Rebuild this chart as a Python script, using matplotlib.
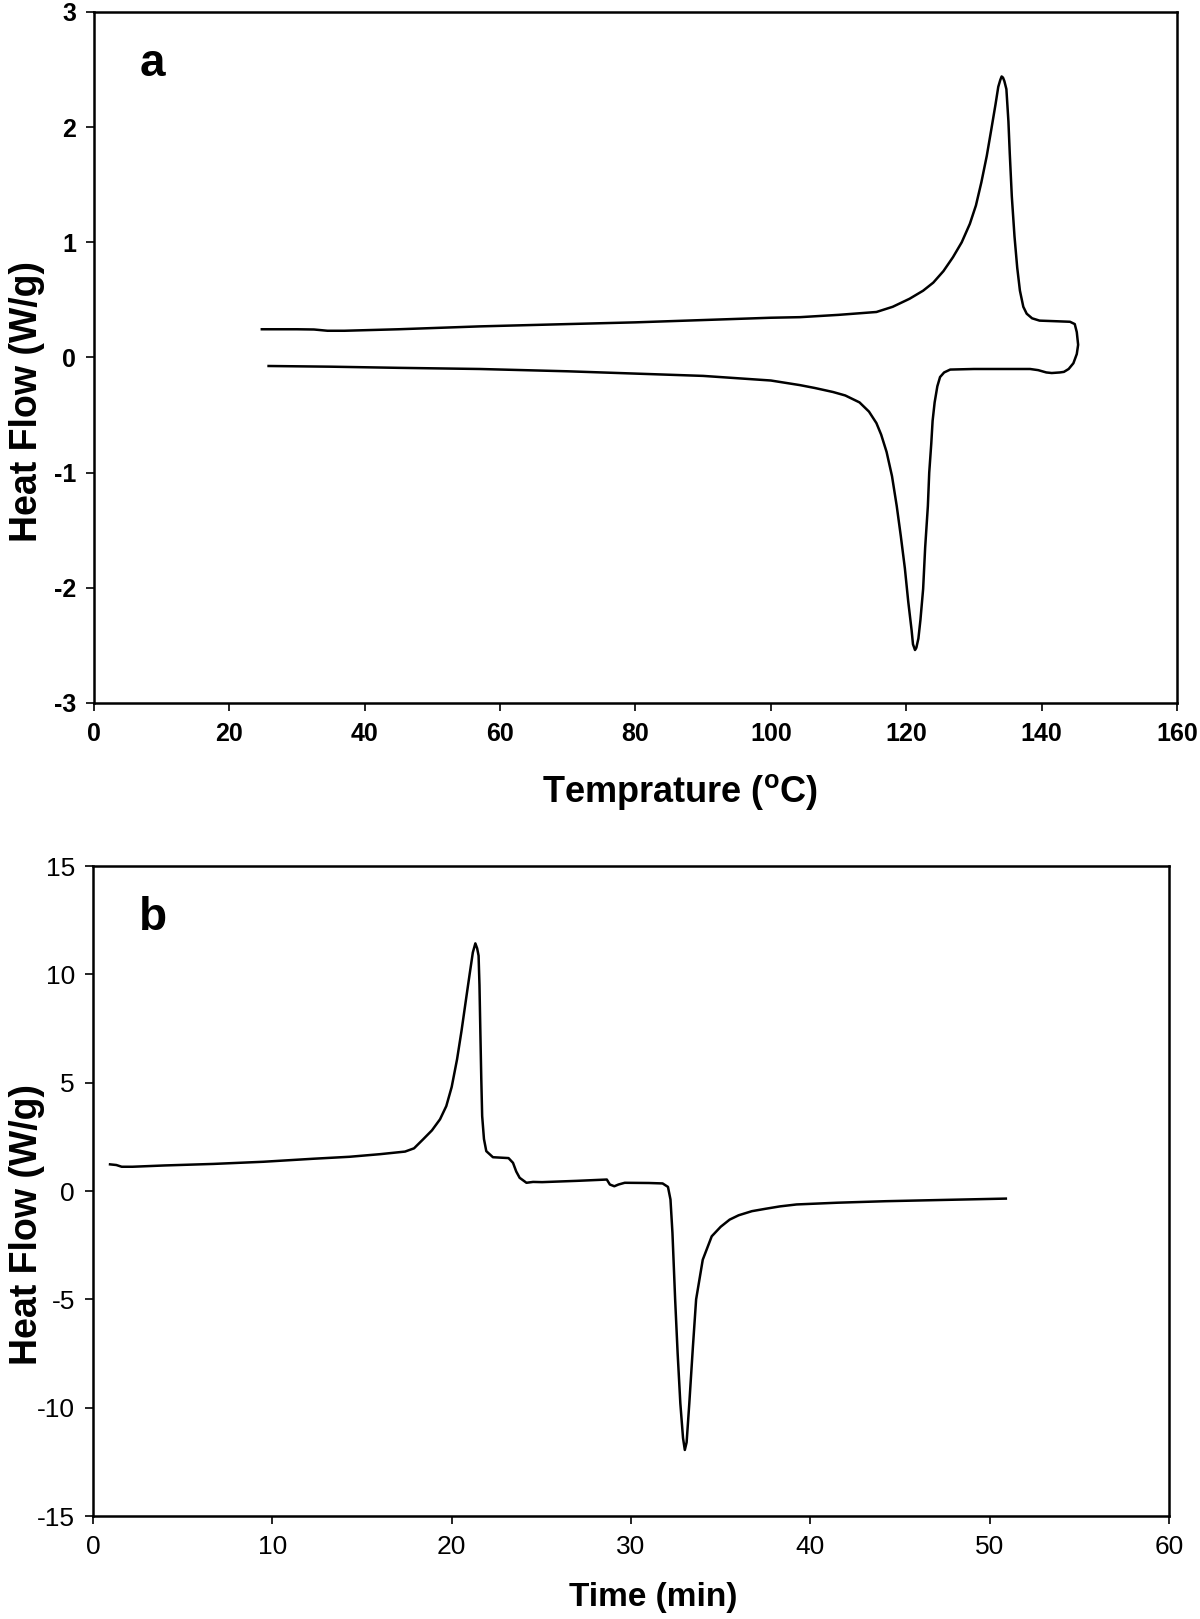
import numpy as np
import matplotlib.pyplot as plt

#
# Data
#
# (a) heat flow vs temperature, traced as one loop: upper branch left->right, lower branch back
temp_a = [24.8, 30.0, 32.5, 34.5, 37.0, 45, 57, 70, 80, 90, 100, 104.3, 110, 115.6, 118,
          120.5, 122.5, 124.0, 125.5, 126.9, 128.2, 129.4, 130.3, 131.1, 131.9, 132.6, 133.2,
          133.6, 133.9, 134.1, 134.3, 134.5, 134.8, 135.1, 135.3, 135.6, 136.0, 136.4, 136.8,
          137.3, 137.8, 138.6, 139.7, 142, 144.2, 144.9, 145.2, 145.4, 145.2, 144.7, 144.0,
          143.3, 142.7, 141.5, 140.7, 139.5, 138.3, 135, 130, 126.5, 125.6, 125.0, 124.6,
          124.2, 123.9, 123.7, 123.4, 123.2, 122.8, 122.5, 122.1, 121.8, 121.5, 121.3, 121.0,
          120.8, 120.3, 119.8, 119.2, 118.6, 117.9, 117.1, 116.3, 115.6, 114.5, 113.1, 111,
          109.2, 106.5, 104.3, 100, 95, 90, 80, 70, 57, 45, 35, 25.8]
hf_a = [0.245, 0.245, 0.243, 0.232, 0.232, 0.245, 0.27, 0.29, 0.305, 0.325, 0.345, 0.35, 0.37,
        0.395, 0.44, 0.51, 0.58, 0.65, 0.75, 0.87, 1.0, 1.16, 1.32, 1.52, 1.75, 1.99, 2.2,
        2.35, 2.41, 2.44, 2.43, 2.40, 2.33, 2.05, 1.77, 1.40, 1.05, 0.78, 0.58,
        0.44, 0.38, 0.34, 0.32, 0.315, 0.31, 0.29, 0.22, 0.11, 0.03, -0.05, -0.10,
        -0.125, -0.13, -0.135, -0.13, -0.11, -0.10, -0.10, -0.10, -0.105, -0.13, -0.17, -0.25,
        -0.39, -0.55, -0.75, -1.0, -1.29, -1.65, -2.01, -2.28, -2.44, -2.52, -2.54, -2.49,
        -2.37, -2.12, -1.83, -1.55, -1.29, -1.03, -0.82, -0.67, -0.57, -0.47, -0.39, -0.33,
        -0.30, -0.265, -0.24, -0.20, -0.18, -0.16, -0.14, -0.12, -0.10, -0.09, -0.08, -0.074]

# (b) heat flow vs time
time_b = [0.95, 1.3, 1.6, 2.2, 4, 6.7, 9.5, 12.3, 14.3, 16, 17.4, 17.9, 18.4, 18.9, 19.35,
          19.7, 20.0, 20.3, 20.55, 20.8, 21.0, 21.18, 21.32, 21.42, 21.5, 21.55, 21.6, 21.65,
          21.7, 21.8, 21.93, 22.3, 23.17, 23.42, 23.6, 23.79, 24.17, 24.54, 25.04, 27, 28.65,
          28.82, 29.07, 29.3, 29.65, 31.0, 31.76, 32.06, 32.2, 32.31, 32.46, 32.6, 32.75,
          32.9, 33.0, 33.1, 33.25, 33.45, 33.63, 34.0, 34.5, 35.0, 35.5, 36.0, 36.74, 37.5,
          38.3, 39.23, 41.5, 44.2, 47.5, 50.9]
hf_b = [1.23, 1.20, 1.12, 1.12, 1.18, 1.25, 1.35, 1.49, 1.58, 1.70, 1.82, 1.97, 2.38, 2.80, 3.31,
        3.92, 4.8, 6.08, 7.4, 8.85, 10.0, 11.01, 11.43, 11.2, 10.86, 9.5, 7.3, 5.2,
        3.46, 2.4, 1.84, 1.56, 1.52, 1.30, 0.9, 0.61, 0.38, 0.42, 0.41, 0.47, 0.53,
        0.30, 0.22, 0.30, 0.38, 0.37, 0.35, 0.19, -0.39, -1.93, -5.0, -7.5, -9.8,
        -11.4, -11.95, -11.6, -9.8, -7.2, -5.0, -3.17, -2.09, -1.65, -1.32, -1.12, -0.93, -0.82,
        -0.71, -0.62, -0.54, -0.47, -0.41, -0.35]

xticks_a = [0, 20, 40, 60, 80, 100, 120, 140, 160]
yticks_a = [-3, -2, -1, 0, 1, 2, 3]
xticks_b = [0, 10, 20, 30, 40, 50, 60]
yticks_b = [-15, -10, -5, 0, 5, 10, 15]

plt.rcParams['font.family'] = ['Liberation Sans', 'DejaVu Sans']
plt.rcParams['mathtext.fontset'] = 'custom'
plt.rcParams['mathtext.rm'] = 'Liberation Sans'
plt.rcParams['mathtext.bf'] = 'Liberation Sans:bold'
plt.rcParams['axes.unicode_minus'] = False

fig = plt.figure(figsize=(12, 16.19), dpi=100)
ax1 = fig.add_axes([0.0783, 0.5658, 0.9025, 0.4268])
ax2 = fig.add_axes([0.0775, 0.0636, 0.8967, 0.4015])


def style_axes(ax, size, weight):
    for sp in ax.spines.values():
        sp.set_linewidth(1.8)
        sp.set_color('black')
    ax.tick_params(axis='both', direction='out', length=6, width=1.2, labelsize=size)
    ax.tick_params(axis='x', pad=8)
    ax.tick_params(axis='y', pad=7)
    ax.tick_params(top=False, right=False)
    for lab in ax.get_xticklabels() + ax.get_yticklabels():
        lab.set_fontweight(weight)


# panel a
ax1.plot(temp_a, hf_a, color='black', lw=1.8)
ax1.set_xlim(0, 160)
ax1.set_ylim(-3, 3)
ax1.set_xticks(xticks_a)
ax1.set_yticks(yticks_a)
style_axes(ax1, 18, 'bold')
ax1.set_xlabel(r'Temprature ($^{\mathregular{o}}$C)', fontsize=26, fontweight='bold')
ax1.set_ylabel('Heat Flow (W/g)', fontsize=27, fontweight='bold')
ax1.xaxis.set_label_coords(0.541, -0.10)
ax1.yaxis.set_label_coords(-0.045, 0.436)
ax1.text(0.0535, 0.925, 'a', transform=ax1.transAxes, fontsize=33, fontweight='bold',
         ha='center', va='center')

# panel b
ax2.plot(time_b, hf_b, color='black', lw=1.8)
ax2.set_xlim(0, 60)
ax2.set_ylim(-15, 15)
ax2.set_xticks(xticks_b)
ax2.set_yticks(yticks_b)
style_axes(ax2, 19, 'normal')
ax2.set_xlabel('Time (min)', fontsize=24, fontweight='bold')
ax2.set_ylabel('Heat Flow (W/g)', fontsize=27, fontweight='bold')
ax2.xaxis.set_label_coords(0.521, -0.102)
ax2.yaxis.set_label_coords(-0.0446, 0.449)
ax2.text(0.0555, 0.92, 'b', transform=ax2.transAxes, fontsize=33, fontweight='bold',
         ha='center', va='center')

plt.savefig('out.png', dpi=100)
